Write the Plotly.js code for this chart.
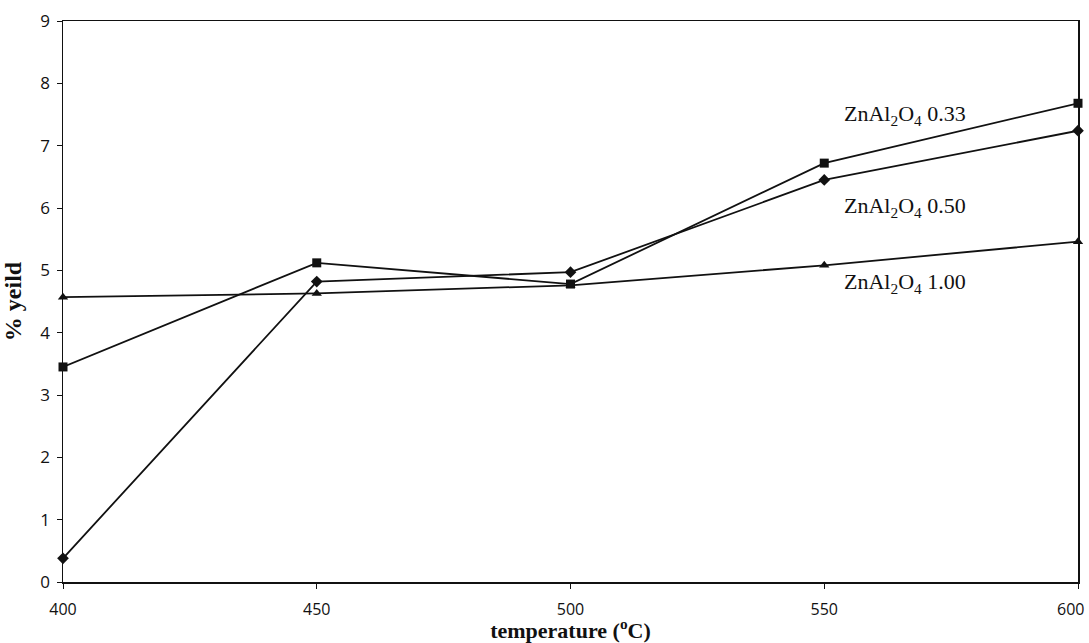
<!DOCTYPE html>
<html>
<head>
<meta charset="utf-8">
<script src="https://cdn.plot.ly/plotly-3.0.1.min.js"></script>
<style>html,body{margin:0;padding:0;background:#fff;}#chart{width:1089px;height:643px;}</style>
</head>
<body>
<div id="chart"></div>
<script>
const temperature = [400, 450, 500, 550, 600];
const yield033 = [3.45, 5.12, 4.78, 6.72, 7.68];
const yield050 = [0.38, 4.82, 4.97, 6.45, 7.24];
const yield100 = [4.57, 4.63, 4.76, 5.08, 5.46];
const seriesNames = ['ZnAl<sub>2</sub>O<sub>4</sub> 0.33', 'ZnAl<sub>2</sub>O<sub>4</sub> 0.50', 'ZnAl<sub>2</sub>O<sub>4</sub> 1.00'];
const labelX = [553.5, 553.5, 553.5];
const labelY = [7.50, 6.02, 4.80];
const xTicks = [400, 450, 500, 550, 600];
const xTickText = ['400', '450', '500', '550', '600'];
const yTicks = [0, 1, 2, 3, 4, 5, 6, 7, 8, 9];

const common = {type: 'scatter', mode: 'lines+markers', x: temperature, line: {color: '#111', width: 1.8}, cliponaxis: false};
const traces = [
  Object.assign({}, common, {y: yield033, name: seriesNames[0], marker: {symbol: 'square', size: 9, color: '#111'}}),
  Object.assign({}, common, {y: yield050, name: seriesNames[1], marker: {symbol: 'diamond', size: 9, color: '#111'}}),
  Object.assign({}, common, {y: yield100, name: seriesNames[2], marker: {symbol: 'triangle-up', size: 9, color: '#111'}})
];

const tickFont = {family: 'Open Sans, DejaVu Sans, sans-serif', size: 16, color: '#111'};
const annotations = seriesNames.map((t, i) => ({
  x: labelX[i], y: labelY[i], xref: 'x', yref: 'y', text: t, showarrow: false,
  xanchor: 'left', yanchor: 'middle',
  font: {family: 'Liberation Serif, Times New Roman, serif', size: 22, color: '#111'}
}));
// last x tick label sits against the right edge, right-aligned
const lastIdx = xTicks.length - 1;
annotations.push({
  x: xTicks[lastIdx], y: 0, xref: 'x', yref: 'y', text: xTickText[lastIdx], showarrow: false,
  xanchor: 'right', yanchor: 'top', xshift: 8, yshift: -14, font: tickFont
});

const layout = {
  width: 1089, height: 643,
  margin: {l: 63, r: 11, t: 21, b: 61},
  paper_bgcolor: '#fff', plot_bgcolor: '#fff',
  showlegend: false,
  xaxis: {
    range: [400, 600], tickvals: xTicks, ticktext: xTickText.map((t, i) => i === lastIdx ? ' ' : t),
    showgrid: false, zeroline: false, showline: true, linecolor: '#111', linewidth: 1.5,
    mirror: true, ticks: 'outside', ticklen: 5, tickcolor: '#111', tickwidth: 1,
    ticklabelstandoff: 7,
    tickfont: tickFont,
    title: {text: '<b>temperature (<sup>o</sup>C)</b>', standoff: 0,
      font: {family: 'Liberation Serif, Times New Roman, serif', size: 22, color: '#111'}}
  },
  yaxis: {
    range: [0, 9], tickvals: yTicks, ticktext: yTicks.map(String),
    showgrid: false, zeroline: false, showline: true, linecolor: '#111', linewidth: 1.5,
    mirror: true, ticks: 'outside', ticklen: 5, tickcolor: '#111', tickwidth: 1,
    ticklabelstandoff: 3,
    tickfont: {family: 'Open Sans, DejaVu Sans, sans-serif', size: 17, color: '#111'},
    title: {text: '<b>% yeild</b>', standoff: 12,
      font: {family: 'Liberation Serif, Times New Roman, serif', size: 24, color: '#111'}}
  },
  annotations: annotations
};

Plotly.newPlot('chart', traces, layout, {displayModeBar: false, staticPlot: true});
</script>
</body>
</html>
